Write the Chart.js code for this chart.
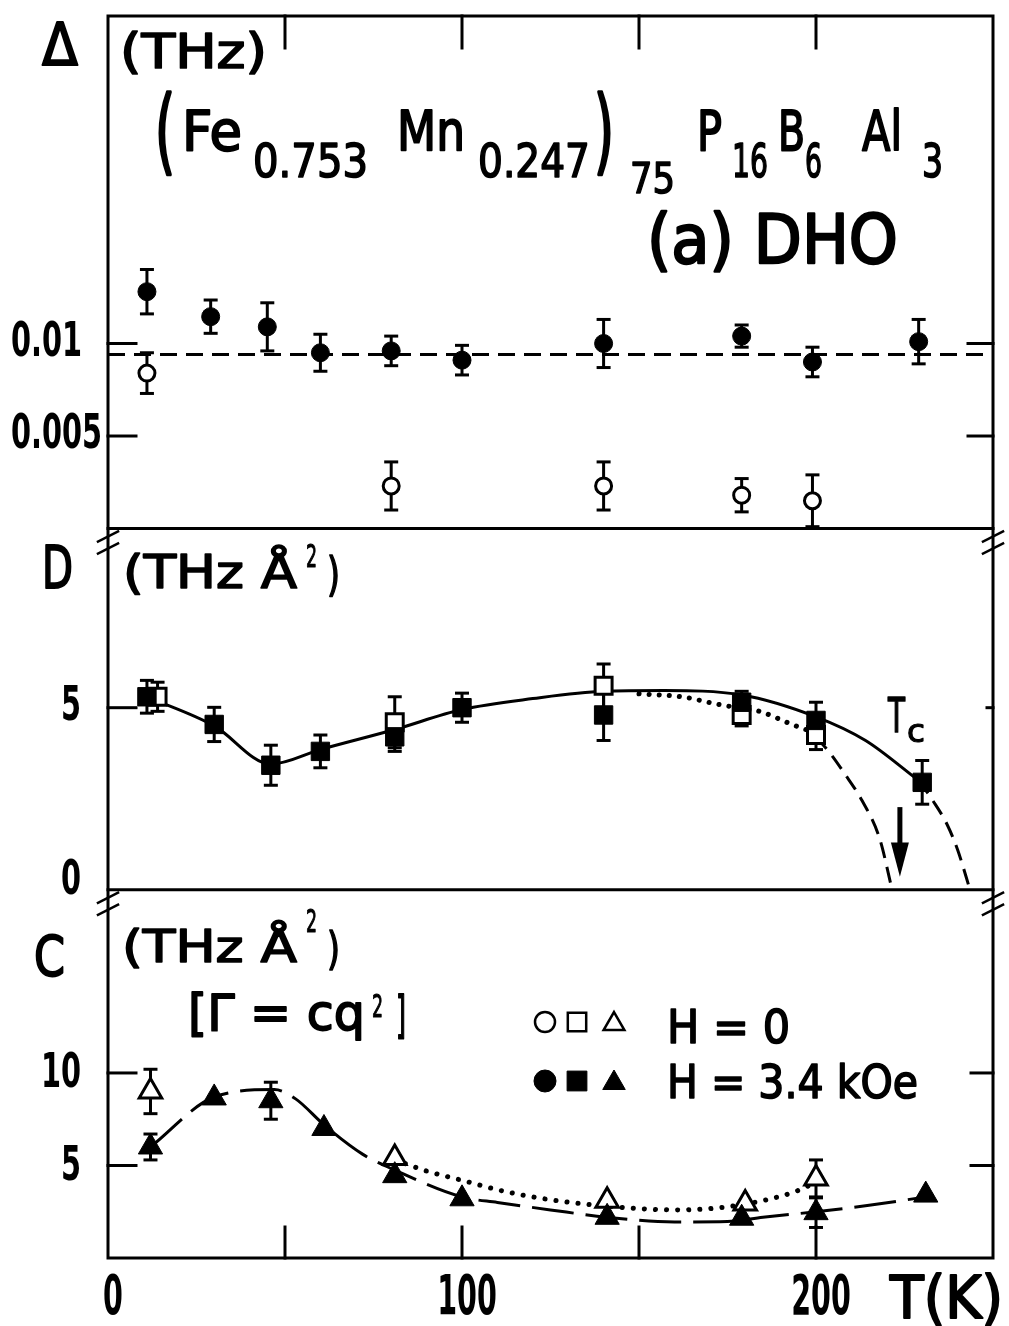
<!DOCTYPE html>
<html lang="en">
<head>
<meta charset="UTF-8">
<title>(Fe0.753 Mn0.247)75 P16 B6 Al3 - DHO</title>
<script src="https://cdn.jsdelivr.net/npm/chart.js"></script>
<style>
  html, body { margin: 0; padding: 0; background: #fff; }
  #wrap { width: 1009px; height: 1326px; }
</style>
</head>
<body>
<div id="wrap"><canvas id="dho" width="1009" height="1326"></canvas></div>
<script>
// temperature axis (K)
const T_MIN = 0, T_MAX = 250;
const xTickMarks = [50, 100, 150, 200];
const xTickLabels = ['0', '100', '200'];
const xTickValues = [0, 100, 200];

// (a) gap Delta (THz)
const aFilledT = [11, 29, 45, 60, 80, 100, 140, 179, 199, 229];
const aFilledV = [0.0128, 0.01145, 0.0109, 0.0095, 0.0096, 0.0091, 0.0100, 0.0104, 0.0090, 0.0101];
const aFilledE = [0.0012, 0.0009, 0.0013, 0.0010, 0.0008, 0.0008, 0.0013, 0.0006, 0.0008, 0.0012];
const aOpenT = [11, 80, 140, 179, 199];
const aOpenV = [0.0084, 0.0023, 0.0023, 0.0018, 0.0015];
const aOpenE = [0.0011, 0.0013, 0.0013, 0.0009, 0.0014];
const aMeanT = [0, 250];
const aMeanV = [0.0094, 0.0094];
const aTicks = [0.005, 0.01];
const aTickLabels = ['0.005', '0.01'];

// (b) stiffness D (THz A^2)
const bFilledT = [11, 30, 46, 60, 81, 100, 140, 179, 200, 230];
const bFilledV = [5.3, 4.54, 3.42, 3.8, 4.2, 5.0, 4.8, 5.15, 4.65, 2.95];
const bFilledE = [0.45, 0.47, 0.55, 0.45, 0.4, 0.4, 0.7, 0.3, 0.5, 0.6];
const bOpenT = [14, 81, 140, 179, 200];
const bOpenV = [5.3, 4.6, 5.6, 4.8, 4.25];
const bOpenE = [0.4, 0.7, 0.6, 0.3, 0.4];
const bFitT = [11, 30, 46, 60, 81, 100, 120, 140, 157, 179, 200, 214, 229];
const bFitV = [5.3, 4.5, 3.45, 3.85, 4.4, 4.95, 5.25, 5.45, 5.47, 5.35, 4.75, 4.1, 3.0];
const bDotT = [150, 162, 172, 179, 184, 193, 200];
const bDotV = [5.38, 5.3, 5.1, 4.98, 4.9, 4.55, 4.3];
const bDashLT = [200, 204, 208, 213, 218, 221.5];
const bDashLV = [4.2, 3.75, 3.2, 2.45, 1.4, 0];
const bDashRT = [229, 233, 237, 240, 243.5];
const bDashRV = [3.0, 2.45, 1.8, 1.1, 0];
const bTicks = [0, 5];
const bTickLabels = ['0', '5'];
const tcArrowT = 223.7;

// (c) damping C (THz A^2), Gamma = c q^2
const cFilledT = [12, 30, 46, 61, 81, 100, 141, 179, 200, 231];
const cFilledV = [6.0, 8.65, 8.5, 7.0, 4.45, 3.2, 2.2, 2.15, 2.45, 3.4];
const cFilledE = [0.7, 0, 1.0, 0, 0, 0, 0, 0, 0.8, 0];
const cOpenT = [12, 81, 141, 180, 200];
const cOpenV = [9.0, 5.4, 3.1, 2.95, 4.3];
const cOpenE = [1.2, 0, 0, 0, 1.0];
const cFitT = [12, 30, 47, 53, 61, 72, 81, 100, 110, 125, 141, 160, 175, 185, 200, 215, 231];
const cFitV = [6.0, 8.7, 9.1, 8.6, 7.2, 5.6, 4.75, 3.3, 3.0, 2.6, 2.2, 1.95, 1.97, 2.2, 2.5, 2.85, 3.3];
const cDotT = [81, 90, 100, 112, 125, 141, 160, 172, 185, 195, 200];
const cDotV = [5.3, 4.7, 4.2, 3.6, 3.15, 2.8, 2.6, 2.7, 3.1, 3.65, 4.1];
const cTicks = [5, 10];
const cTickLabels = ['5', '10'];

const INK = '#000';
const FONT = '"DejaVu Sans", sans-serif';

const pts = (t, v) => t.map((x, i) => ({ x: x, y: v[i] }));

function marks(label, axis, t, v, style, filled, r) {
  return {
    label: label, xAxisID: 'x', yAxisID: axis, data: pts(t, v),
    pointStyle: style, pointRadius: r, pointHoverRadius: r,
    pointBackgroundColor: filled ? INK : '#fff', pointBorderColor: INK,
    pointBorderWidth: filled ? 1 : 3, showLine: false, order: filled ? 0 : 1
  };
}

function curve(label, axis, t, v, dash, w) {
  return {
    label: label, xAxisID: 'x', yAxisID: axis, data: pts(t, v),
    showLine: true, pointRadius: 0, borderColor: INK, borderWidth: w || 3,
    borderDash: dash, borderCapStyle: dash[0] < 1 ? 'round' : 'butt',
    cubicInterpolationMode: 'monotone', fill: false, order: 2
  };
}

const errorSets = [
  { axis: 'ya', t: aFilledT, v: aFilledV, e: aFilledE },
  { axis: 'ya', t: aOpenT, v: aOpenV, e: aOpenE },
  { axis: 'yb', t: bFilledT, v: bFilledV, e: bFilledE },
  { axis: 'yb', t: bOpenT, v: bOpenV, e: bOpenE },
  { axis: 'yc', t: cFilledT, v: cFilledV, e: cFilledE },
  { axis: 'yc', t: cOpenT, v: cOpenV, e: cOpenE }
];

// lettering: regular face thickened by a thin outline, squeezed to the width of the original
function fitText(ctx, s, left, base, width, size) {
  ctx.save();
  ctx.font = size + 'px ' + FONT;
  ctx.textAlign = 'left';
  ctx.textBaseline = 'alphabetic';
  const w = ctx.measureText(s).width;
  ctx.translate(left, base);
  ctx.scale(width / w, 1);
  ctx.lineWidth = Math.max(1.2, size / 28);
  ctx.lineJoin = 'round';
  ctx.strokeStyle = INK;
  ctx.fillText(s, 0, 0);
  ctx.strokeText(s, 0, 0);
  ctx.restore();
}

function squeezed(ctx, s, x, yMid, size, sx, align) {
  ctx.save();
  ctx.font = 'bold ' + size + 'px ' + FONT;
  ctx.textBaseline = 'middle';
  ctx.textAlign = align;
  ctx.translate(x, yMid);
  ctx.scale(sx, 1);
  ctx.fillText(s, 0, 0);
  ctx.restore();
}

function seg(ctx, x1, y1, x2, y2) {
  ctx.beginPath(); ctx.moveTo(x1, y1); ctx.lineTo(x2, y2); ctx.stroke();
}

const texts = [
  ['\u0394', 42, 65, 36, 58],
  ['(THz)', 120, 68, 147, 48],
  ['(', 155, 163, 20, 92],
  ['Fe', 182, 150, 60, 55],
  ['0.753', 253, 177, 115, 46],
  ['Mn', 397, 150, 68, 55],
  ['0.247', 478, 177, 112, 46],
  [')', 594, 163, 20, 92],
  ['75', 630, 193, 45, 42],
  ['P', 697, 150, 25, 55],
  ['16', 732, 177, 36, 46],
  ['B', 778, 150, 27, 55],
  ['6', 805, 177, 17, 46],
  ['Al', 862, 150, 40, 55],
  ['3', 922, 177, 21, 46],
  ['(a) DHO', 647, 263, 251, 68],
  ['D', 42, 588, 31, 58],
  ['(THz \u00C5', 123, 588, 174, 46],
  ['2', 306, 567, 11, 32],
  [')', 327, 590, 13, 46],
  ['C', 34, 975, 31, 55],
  ['(THz \u00C5', 122, 962, 175, 45],
  ['2', 306, 932, 11, 32],
  [')', 327, 964, 13, 45],
  ['[\u0393 = cq', 188, 1030, 177, 50],
  ['2', 372, 1017, 11, 32],
  [']', 396, 1032, 10, 50],
  ['H = 0', 667, 1043, 123, 46],
  ['H = 3.4 kOe', 667, 1098, 251, 46],
  ['T', 888, 732, 17, 48],
  ['c', 907, 742, 18, 32],
  ['T(K)', 890, 1318, 113, 58]
];

function legendMark(ctx, style, filled, r, x, y) {
  ctx.save();
  ctx.fillStyle = filled ? INK : '#fff';
  ctx.strokeStyle = INK;
  ctx.lineWidth = filled ? 1 : 2.5;
  const opts = { pointStyle: style, radius: r, borderWidth: filled ? 1 : 2.5, rotation: 0 };
  if (Chart.helpers && Chart.helpers.drawPoint) {
    Chart.helpers.drawPoint(ctx, opts, x, y);
  } else {
    ctx.beginPath(); ctx.arc(x, y, r * 0.8, 0, Math.PI * 2); ctx.fill(); ctx.stroke();
  }
  ctx.restore();
}

const framePlugin = {
  id: 'frame',
  beforeDatasetsDraw(chart) {
    const ctx = chart.ctx;
    const xs = chart.scales.x;
    ctx.save();
    ctx.strokeStyle = INK;
    ctx.lineWidth = 3;
    errorSets.forEach(s => {
      const ys = chart.scales[s.axis];
      s.t.forEach((t, i) => {
        if (!s.e[i]) return;
        const x = xs.getPixelForValue(t);
        const y1 = ys.getPixelForValue(s.v[i] - s.e[i]);
        const y2 = ys.getPixelForValue(s.v[i] + s.e[i]);
        seg(ctx, x, y1, x, y2);
        seg(ctx, x - 7, y1, x + 7, y1);
        seg(ctx, x - 7, y2, x + 7, y2);
      });
    });
    ctx.restore();
  },
  afterDraw(chart) {
    const ctx = chart.ctx;
    const { left, right, top, bottom } = chart.chartArea;
    const xs = chart.scales.x, ya = chart.scales.ya, yb = chart.scales.yb, yc = chart.scales.yc;
    ctx.save();
    ctx.strokeStyle = INK;
    ctx.fillStyle = INK;
    ctx.lineWidth = 3;
    ctx.lineCap = 'square';
    ctx.strokeRect(left, top, right - left, bottom - top);
    seg(ctx, left, ya.bottom, right, ya.bottom);
    seg(ctx, left, yb.bottom, right, yb.bottom);

    // x ticks on top and bottom edge
    xTickMarks.forEach(t => {
      const x = xs.getPixelForValue(t);
      seg(ctx, x, top, x, top + 32);
      seg(ctx, x, bottom, x, bottom - 31);
    });
    // y ticks
    aTicks.forEach(v => {
      const y = ya.getPixelForValue(v);
      seg(ctx, left, y, left + 28, y);
      seg(ctx, right, y, right - 25, y);
    });
    bTicks.forEach(v => {
      if (v === 0) return;
      const y = yb.getPixelForValue(v);
      seg(ctx, left, y, left + 28, y);
      seg(ctx, right, y, right - 6, y);
    });
    cTicks.forEach(v => {
      const y = yc.getPixelForValue(v);
      seg(ctx, left, y, left + 28, y);
      seg(ctx, right, y, right - 22, y);
    });

    // axis breaks
    ctx.lineWidth = 2.5;
    [ya.bottom, yb.bottom].forEach(yB => {
      [left, right].forEach(ax => {
        [yB + 8, yB + 20].forEach(y => seg(ctx, ax - 10, y + 5, ax + 10, y - 5));
      });
    });

    // tick labels
    aTicks.forEach((v, i) => squeezed(ctx, aTickLabels[i], 11, ya.getPixelForValue(v), 48, 0.6, 'left'));
    bTicks.forEach((v, i) => squeezed(ctx, bTickLabels[i], 81, yb.getPixelForValue(v) - (v === 0 ? 8 : 0), 48, 0.6, 'right'));
    cTicks.forEach((v, i) => squeezed(ctx, cTickLabels[i], 81, yc.getPixelForValue(v) + 2, 48, 0.6, 'right'));
    xTickValues.forEach((v, i) => squeezed(ctx, xTickLabels[i], xs.getPixelForValue(v) + 5, 1300, 55, 0.52, 'center'));

    // text
    ctx.fillStyle = INK;
    texts.forEach(d => fitText(ctx, d[0], d[1], d[2], d[3], d[4]));

    // Tc arrow
    const ax = xs.getPixelForValue(tcArrowT);
    const yTop = yb.getPixelForValue(2.27), yHead = yb.getPixelForValue(1.3), yTip = yb.getPixelForValue(0.36);
    ctx.lineWidth = 5;
    ctx.lineCap = 'butt';
    seg(ctx, ax, yTop, ax, yHead + 2);
    ctx.beginPath();
    ctx.moveTo(ax - 9, yHead); ctx.lineTo(ax + 9, yHead); ctx.lineTo(ax, yTip); ctx.closePath();
    ctx.fill();

    // legend symbols
    legendMark(ctx, 'circle', false, 10, 545, 1022);
    legendMark(ctx, 'rect', false, 13, 577, 1022);
    legendMark(ctx, 'triangle', false, 12, 614, 1024);
    legendMark(ctx, 'circle', true, 11, 545, 1081);
    legendMark(ctx, 'rect', true, 14, 577, 1081);
    legendMark(ctx, 'triangle', true, 13, 614, 1083);
    ctx.restore();
  }
};

new Chart(document.getElementById('dho'), {
  type: 'scatter',
  data: {
    datasets: [
      marks('Delta, H = 3.4 kOe', 'ya', aFilledT, aFilledV, 'circle', true, 9),
      marks('Delta, H = 0', 'ya', aOpenT, aOpenV, 'circle', false, 8),
      marks('D, H = 3.4 kOe', 'yb', bFilledT, bFilledV, 'rect', true, 13),
      marks('D, H = 0', 'yb', bOpenT, bOpenV, 'rect', false, 12),
      marks('C, H = 3.4 kOe', 'yc', cFilledT, cFilledV, 'triangle', true, 14),
      marks('C, H = 0', 'yc', cOpenT, cOpenV, 'triangle', false, 13),
      curve('Delta mean', 'ya', aMeanT, aMeanV, [17, 9]),
      curve('D fit', 'yb', bFitT, bFitV, []),
      curve('D fit H=0', 'yb', bDotT, bDotV, [0.1, 10], 5),
      curve('D extrap. H=0', 'yb', bDashLT, bDashLV, [16, 9]),
      curve('D extrap.', 'yb', bDashRT, bDashRV, [16, 9]),
      curve('C fit', 'yc', cFitT, cFitV, [42, 12]),
      curve('C fit H=0', 'yc', cDotT, cDotV, [0.1, 11], 5)
    ]
  },
  options: {
    responsive: false,
    animation: false,
    layout: { padding: { left: 108, right: 9, top: 10, bottom: 68 } },
    plugins: { legend: { display: false }, tooltip: { enabled: false } },
    scales: {
      x: { type: 'linear', min: T_MIN, max: T_MAX, display: false },
      ya: { type: 'linear', position: 'right', stack: 'panels', stackWeight: 515, weight: 1, min: 0, max: 0.0277, display: false },
      yb: { type: 'linear', position: 'right', stack: 'panels', stackWeight: 363, weight: 2, min: 0, max: 9.92, display: false },
      yc: { type: 'linear', position: 'right', stack: 'panels', stackWeight: 370, weight: 3, min: 0, max: 19.9, display: false }
    }
  },
  plugins: [framePlugin]
});
</script>
</body>
</html>
